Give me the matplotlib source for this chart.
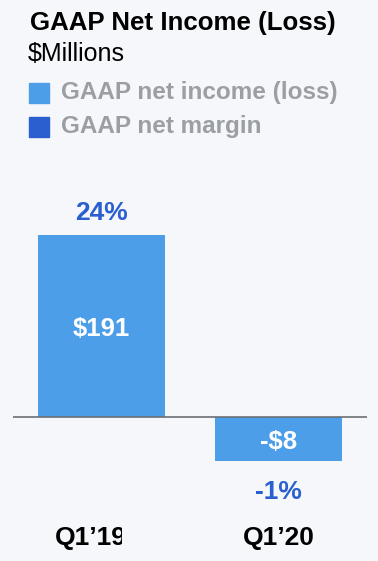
import matplotlib
matplotlib.use("Agg")
import matplotlib.pyplot as plt
import numpy as np
from matplotlib.patches import Rectangle
from matplotlib.transforms import Bbox

# Data
quarters = ["Q1\u201919", "Q1\u201920"]
net_income = [191, -8]
net_margin = [24, -1]
income_labels = ["$191", "-$8"]
margin_labels = ["24%", "-1%"]

BG = "#f5f7fa"
BAR = "#4c9ee8"
MARGIN = "#2b5fcf"
GREY = "#9b9fa4"

plt.rcParams["font.family"] = ["Liberation Sans", "DejaVu Sans"]

# negative values are drawn stretched in the original slide
NEG = 5.8
def fwd(v):
    v = np.asarray(v, dtype=float)
    return np.where(v >= 0, v, v * NEG)
def inv(v):
    v = np.asarray(v, dtype=float)
    return np.where(v >= 0, v, v / NEG)

fig = plt.figure(figsize=(3.78, 5.61), dpi=100, facecolor=BG)
ax = fig.add_axes([13 / 378, 91 / 561, 354 / 378, 270 / 561])
ax.set_facecolor(BG)
ax.set_yscale("function", functions=(fwd, inv))

x = range(len(quarters))
ax.bar(x, net_income, width=0.717, color=BAR, zorder=2)
ax.axhline(0, color="#6b6f74", lw=1.2, zorder=3)
ax.set_xlim(-0.5, 1.5)
ax.set_ylim(-55.6 / NEG, 227.7)
for s in ax.spines.values():
    s.set_visible(False)
ax.set_xticks([])
ax.set_yticks([])

# labels
for i, (v, lab, mlab) in enumerate(zip(net_income, income_labels, margin_labels)):
    if v >= 0:
        ax.text(i, v / 2 - 3, lab, ha="center", va="center", color="white",
                fontsize=18.5, fontweight="bold")
        ax.annotate(mlab, (i, v), xytext=(0, 22), textcoords="offset pixels",
                    ha="center", va="center", color=MARGIN, fontsize=19,
                    fontweight="bold")
        dx = -11
    else:
        ax.annotate(lab, (i, 0), xytext=(0, -25), textcoords="offset pixels",
                    ha="center", va="center", color="white", fontsize=18.5,
                    fontweight="bold")
        ax.annotate(mlab, (i, v), xytext=(0, -31), textcoords="offset pixels",
                    ha="center", va="center", color=MARGIN, fontsize=19,
                    fontweight="bold")
        dx = 0
    t = ax.annotate(quarters[i], (i, 0), xytext=(dx, -121), textcoords="offset pixels",
                    ha="center", va="center", color="black", fontsize=19,
                    fontweight="bold", annotation_clip=False)
    if i == 0:
        # the first label is cut off on the slide
        t.set_clip_on(True)
        t.set_clip_box(Bbox([[0, 0], [122, 561]]))

# header
fig.text(30 / 378, 1 - 23 / 561, "GAAP Net Income (Loss)", ha="left", va="center",
         fontsize=18.6, fontweight="bold", color="black")
fig.text(28 / 378, 1 - 54 / 561, "$Millions", ha="left", va="center",
         fontsize=18, color="black")
for k, (name, col) in enumerate([("GAAP net income (loss)", BAR), ("GAAP net margin", MARGIN)]):
    yc = 93 + 34 * k
    fig.patches.append(Rectangle((29 / 378, 1 - (yc + 10) / 561), 20 / 378, 20 / 561,
                                 transform=fig.transFigure, color=col))
    fig.text(61 / 378, 1 - yc / 561, name, ha="left", va="center",
             fontsize=17.5, fontweight="bold", color=GREY)

plt.savefig("out.png", dpi=100, facecolor=BG)
